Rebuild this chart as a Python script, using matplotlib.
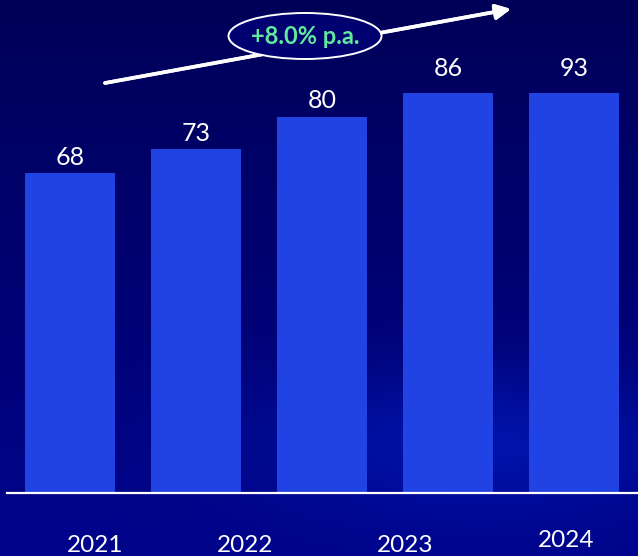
import numpy as np
import matplotlib.pyplot as plt
from matplotlib.patches import Ellipse

# data
values = [68, 73, 80, 86, 93]
years = ["2021", "2022", "2023", "2024"]
# year labels sit a bit off the bars in the original slide
year_pos = [0.20, 1.39, 2.66, 3.94]
year_drop = [0, 0, 0, 3]
growth_label = "+8.0% p.a."

BAR_COLOR = "#2243E4"
FONT = "Lato"


def draw_background(fig):
    bg = fig.add_axes([0, 0, 1, 1], zorder=-10)
    h, w = 556, 638
    yy, xx = np.mgrid[0:h, 0:w]
    t = yy / h
    top = np.array([0, 0, 88]) / 255
    bot = np.array([0, 4, 140]) / 255
    img = top[None, None, :] * (1 - t[..., None]) + bot[None, None, :] * t[..., None]
    # soft glow in the lower right
    glow = np.exp(-(((xx - 480) / 210) ** 2 + ((yy - 440) / 70) ** 2))
    img = img + glow[..., None] * np.array([0, 16, 40]) / 255
    bg.imshow(np.clip(img, 0, 1), aspect="auto", extent=[0, 1, 0, 1])
    bg.set_axis_off()


def main() -> None:
    fig = plt.figure(figsize=(6.38, 5.56), dpi=100)
    draw_background(fig)

    ax = fig.add_axes([7 / 638, 63 / 556, 631 / 638, 400 / 556])
    ax.patch.set_alpha(0)
    x = np.arange(len(values))
    ax.bar(x, values, width=0.714, color=BAR_COLOR)
    ax.set_xlim(-0.5, 4.51)
    ax.set_ylim(0, 85)
    top = ax.get_ylim()[1]

    for xi, v in zip(x, values):
        # bars taller than the frame get their label nudged up a little
        pad = 3 if v <= top else 9.5
        ax.annotate(f"{v}", (xi, min(v, top)), xytext=(0, pad),
                    textcoords="offset points", ha="center", va="bottom",
                    color="white", fontsize=18, family=FONT,
                    annotation_clip=False)

    for pos, yr, d in zip(year_pos, years, year_drop):
        ax.annotate(yr, (pos, 0), xytext=(0, -37.5 + d),
                    textcoords="offset points", ha="center", va="center",
                    color="white", fontsize=17.5, family=FONT,
                    annotation_clip=False)

    for side in ["top", "right", "left"]:
        ax.spines[side].set_visible(False)
    ax.spines["bottom"].set_color("white")
    ax.spines["bottom"].set_linewidth(1.6)
    ax.set_xticks([])
    ax.set_yticks([])

    # growth arrow with ellipse label
    fig.add_artist(plt.annotate(
        "", xy=(511 / 638, 1 - 9 / 556), xytext=(105 / 638, 1 - 83 / 556),
        xycoords="figure fraction", textcoords="figure fraction",
        arrowprops=dict(arrowstyle="-|>,head_length=0.9,head_width=0.45",
                        color="white", lw=2.6, shrinkA=0, shrinkB=0)))
    ell = Ellipse((305 / 638, 1 - 36 / 556), 153 / 638, 46 / 556,
                  transform=fig.transFigure, facecolor="#000070",
                  edgecolor="white", lw=1.4, zorder=5)
    fig.add_artist(ell)
    fig.text(305 / 638, 1 - 37 / 556, growth_label, ha="center", va="center",
             color="#62E89E", fontsize=17, fontweight="bold", family=FONT,
             zorder=6)

    fig.savefig("out.png", dpi=100)


if __name__ == "__main__":
    main()
